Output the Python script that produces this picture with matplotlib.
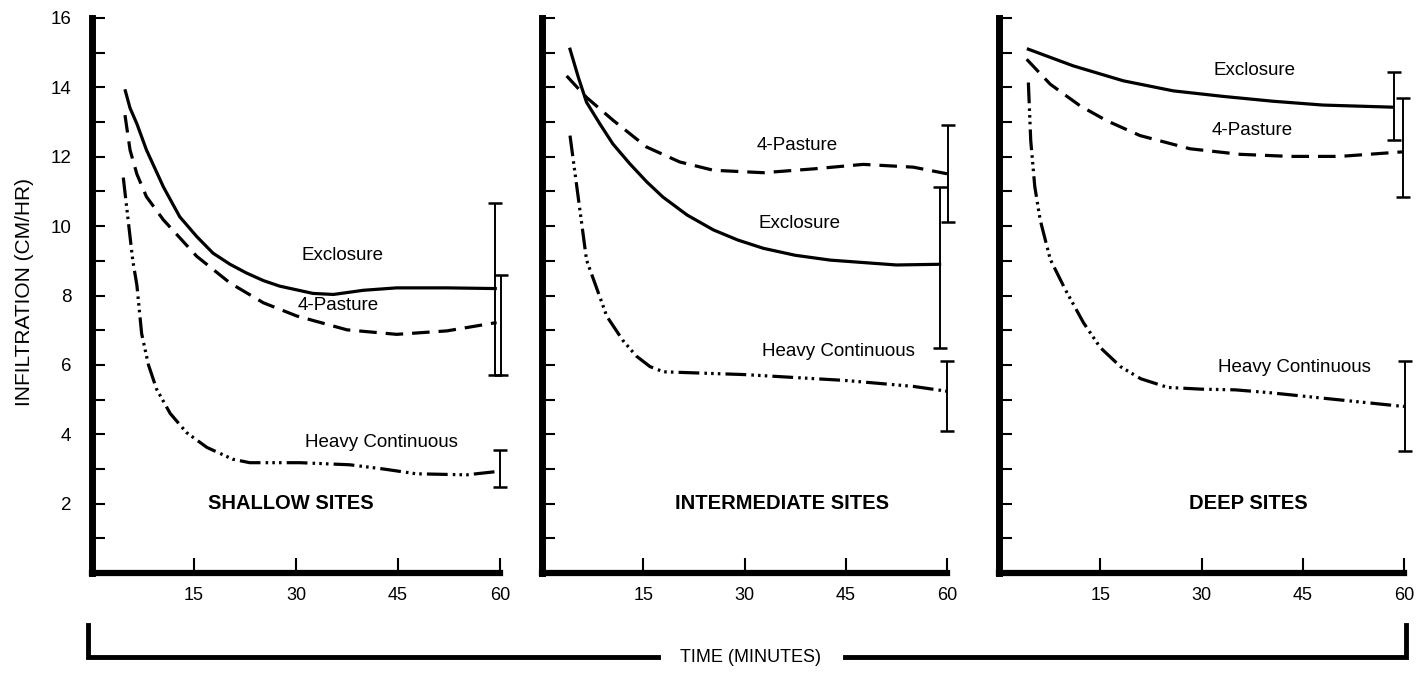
import matplotlib
matplotlib.use("Agg")
import matplotlib.pyplot as plt
from matplotlib.lines import Line2D

plt.rcParams['font.family'] = ['Liberation Sans', 'DejaVu Sans']

# ---- data (time in minutes, infiltration in cm/hr) ----
sites = ["SHALLOW SITES", "INTERMEDIATE SITES", "DEEP SITES"]

excl_t = [
    [4.9, 5.6, 6.6, 8.0, 10.5, 12.9, 15.4, 17.8, 20.3, 22.7, 25.2, 27.6, 32.5, 35.5, 39.9, 44.8, 52.2, 59.3],
    [4.15, 5.4, 6.6, 8.6, 10.5, 13.0, 15.5, 17.9, 21.5, 25.4, 29.0, 32.8, 37.5, 42.7, 52.5, 58.9],
    [4.35, 11.0, 18.4, 25.8, 33.2, 40.6, 48.0, 58.2],
]
excl_v = [
    [13.9, 13.4, 12.95, 12.2, 11.13, 10.27, 9.7, 9.22, 8.9, 8.65, 8.43, 8.27, 8.06, 8.03, 8.15, 8.22, 8.22, 8.2],
    [15.1, 14.28, 13.57, 12.94, 12.37, 11.8, 11.28, 10.84, 10.32, 9.89, 9.6, 9.36, 9.16, 9.02, 8.88, 8.9],
    [15.1, 14.62, 14.19, 13.9, 13.74, 13.6, 13.49, 13.43],
]

past_t = [
    [4.85, 5.6, 6.6, 8.0, 10.5, 15.4, 20.3, 25.2, 30.1, 37.5, 44.8, 52.2, 59.5],
    [3.65, 6.6, 10.6, 15.5, 20.4, 25.4, 32.8, 40.2, 47.6, 55.0, 60.0],
    [4.1, 7.6, 12.0, 15.95, 20.9, 28.3, 35.7, 43.1, 50.5, 59.7],
]
past_v = [
    [13.2, 12.19, 11.5, 10.85, 10.18, 9.13, 8.36, 7.79, 7.41, 7.01, 6.88, 6.98, 7.22],
    [14.33, 13.71, 13.04, 12.28, 11.85, 11.61, 11.54, 11.65, 11.78, 11.70, 11.51],
    [14.81, 14.09, 13.47, 13.04, 12.61, 12.23, 12.07, 12.01, 12.01, 12.14],
]

heavy_t = [
    [4.6, 5.3, 6.0, 6.6, 7.3, 8.3, 9.5, 11.5, 13.9, 16.9, 20.7, 23.2, 30.6, 37.9, 42.8, 47.7, 55.1, 59.3],
    [4.15, 5.1, 6.6, 9.6, 12.0, 14.0, 16.0, 18.0, 30.0, 45.0, 55.0, 60.0],
    [4.35, 4.7, 5.3, 6.1, 7.6, 9.8, 12.5, 15.0, 18.0, 21.0, 25.0, 30.0, 35.0, 40.0, 45.0, 50.0, 55.0, 60.0],
]
heavy_v = [
    [11.4, 10.2, 9.0, 8.3, 6.9, 6.0, 5.3, 4.6, 4.05, 3.62, 3.28, 3.18, 3.18, 3.12, 3.0, 2.86, 2.83, 2.92],
    [12.61, 11.22, 9.02, 7.4, 6.7, 6.25, 5.95, 5.8, 5.72, 5.55, 5.38, 5.24],
    [14.14, 12.47, 11.14, 10.18, 9.04, 8.18, 7.22, 6.5, 5.95, 5.6, 5.35, 5.3, 5.28, 5.2, 5.1, 5.0, 4.9, 4.8],
]

# range bars at 60 min: [exclosure, 4-pasture, heavy continuous]
bar_t = [[59.3, 60.2, 60.0], [58.9, 60.2, 60.0], [58.5, 59.9, 60.1]]
bar_lo = [[5.70, 5.70, 2.49], [6.50, 10.12, 4.09], [12.49, 10.83, 3.52]]
bar_hi = [[10.66, 8.60, 3.54], [11.13, 12.92, 6.10], [14.45, 13.68, 6.11]]

xticks = [15, 30, 45, 60]
xtick_labels = ["15", "30", "45", "60"]
yticks = list(range(1, 17))
ytick_labels = [str(v) if v % 2 == 0 else "" for v in yticks]

# label positions (time, value) per panel: exclosure, 4-pasture, heavy, site
label_pos = [
    [(36.8, 9.15), (36.2, 7.71), (42.5, 3.77), (29.3, 2.01)],
    [(38.1, 10.07), (37.8, 12.32), (43.9, 6.39), (35.6, 2.01)],
    [(37.8, 14.5), (37.5, 12.75), (43.7, 5.93), (36.9, 2.01)],
]

W, H = 1418, 673
fig = plt.figure(figsize=(W / 100, H / 100), dpi=100)

# pixel x of t=0 and t=60 for each panel
panel_px = [(92, 500), (542, 947), (999, 1404)]
y0_px, y16_px = 573, 18

dash = (0, (5.5, 2.8))
dash_dots = (0, (6.5, 1.6, 0.8, 1.3, 0.8, 1.3, 0.8, 1.6))

for i, (x0, x1) in enumerate(panel_px):
    ax = fig.add_axes([x0 / W, (H - y0_px) / H, (x1 - x0) / W, (y0_px - y16_px) / H])
    ax.set_xlim(0, 60)
    ax.set_ylim(0, 16)
    for s in ("top", "right"):
        ax.spines[s].set_visible(False)
    ax.spines["left"].set_linewidth(5)
    ax.spines["bottom"].set_linewidth(4.5)

    ax.set_xticks(xticks)
    ax.set_xticklabels(xtick_labels)
    ax.set_yticks(yticks)
    ax.set_yticklabels(ytick_labels if i == 0 else [""] * len(yticks))
    ax.tick_params(axis="x", direction="in", length=11, width=1.5, pad=10, labelsize=13)
    ax.tick_params(axis="y", direction="in", length=9, width=1.5, pad=15, labelsize=13.5)

    ax.plot(excl_t[i], excl_v[i], color="black", lw=2.3, ls="-", clip_on=False)
    ax.plot(past_t[i], past_v[i], color="black", lw=2.3, ls=dash, clip_on=False)
    ax.plot(heavy_t[i], heavy_v[i], color="black", lw=2.3, ls=dash_dots, clip_on=False)

    mids = [(lo + hi) / 2 for lo, hi in zip(bar_lo[i], bar_hi[i])]
    half = [(hi - lo) / 2 for lo, hi in zip(bar_lo[i], bar_hi[i])]
    ax.errorbar(bar_t[i], mids, yerr=half, fmt="none", ecolor="black",
                elinewidth=1.4, capsize=5, capthick=1.8, clip_on=False)

    (ex, ey), (px, py), (hx, hy), (sx, sy) = label_pos[i]
    ax.text(ex, ey, "Exclosure", ha="center", va="center", fontsize=13.5)
    ax.text(px, py, "4-Pasture", ha="center", va="center", fontsize=13.5)
    ax.text(hx, hy, "Heavy Continuous", ha="center", va="center", fontsize=13.5)
    ax.text(sx, sy, sites[i], ha="center", va="center", fontsize=14.5, fontweight="bold")

fig.text(24 / W, 1 - 292 / H, "INFILTRATION (CM/HR)", rotation=90,
         ha="center", va="center", fontsize=15)

# bracket under the panels
def fx(x):
    return x / W

def fy(y):
    return 1 - y / H

fig.add_artist(Line2D([fx(88), fx(88), fx(658)], [fy(625), fy(657), fy(657)],
                      color="black", lw=3.5, solid_joinstyle="miter"))
fig.add_artist(Line2D([fx(845), fx(1406), fx(1406)], [fy(657), fy(657), fy(625)],
                      color="black", lw=3.5, solid_joinstyle="miter"))
fig.text(fx(751), fy(657), "TIME (MINUTES)", ha="center", va="center", fontsize=13)

fig.savefig("out.png", dpi=100, facecolor="white")
